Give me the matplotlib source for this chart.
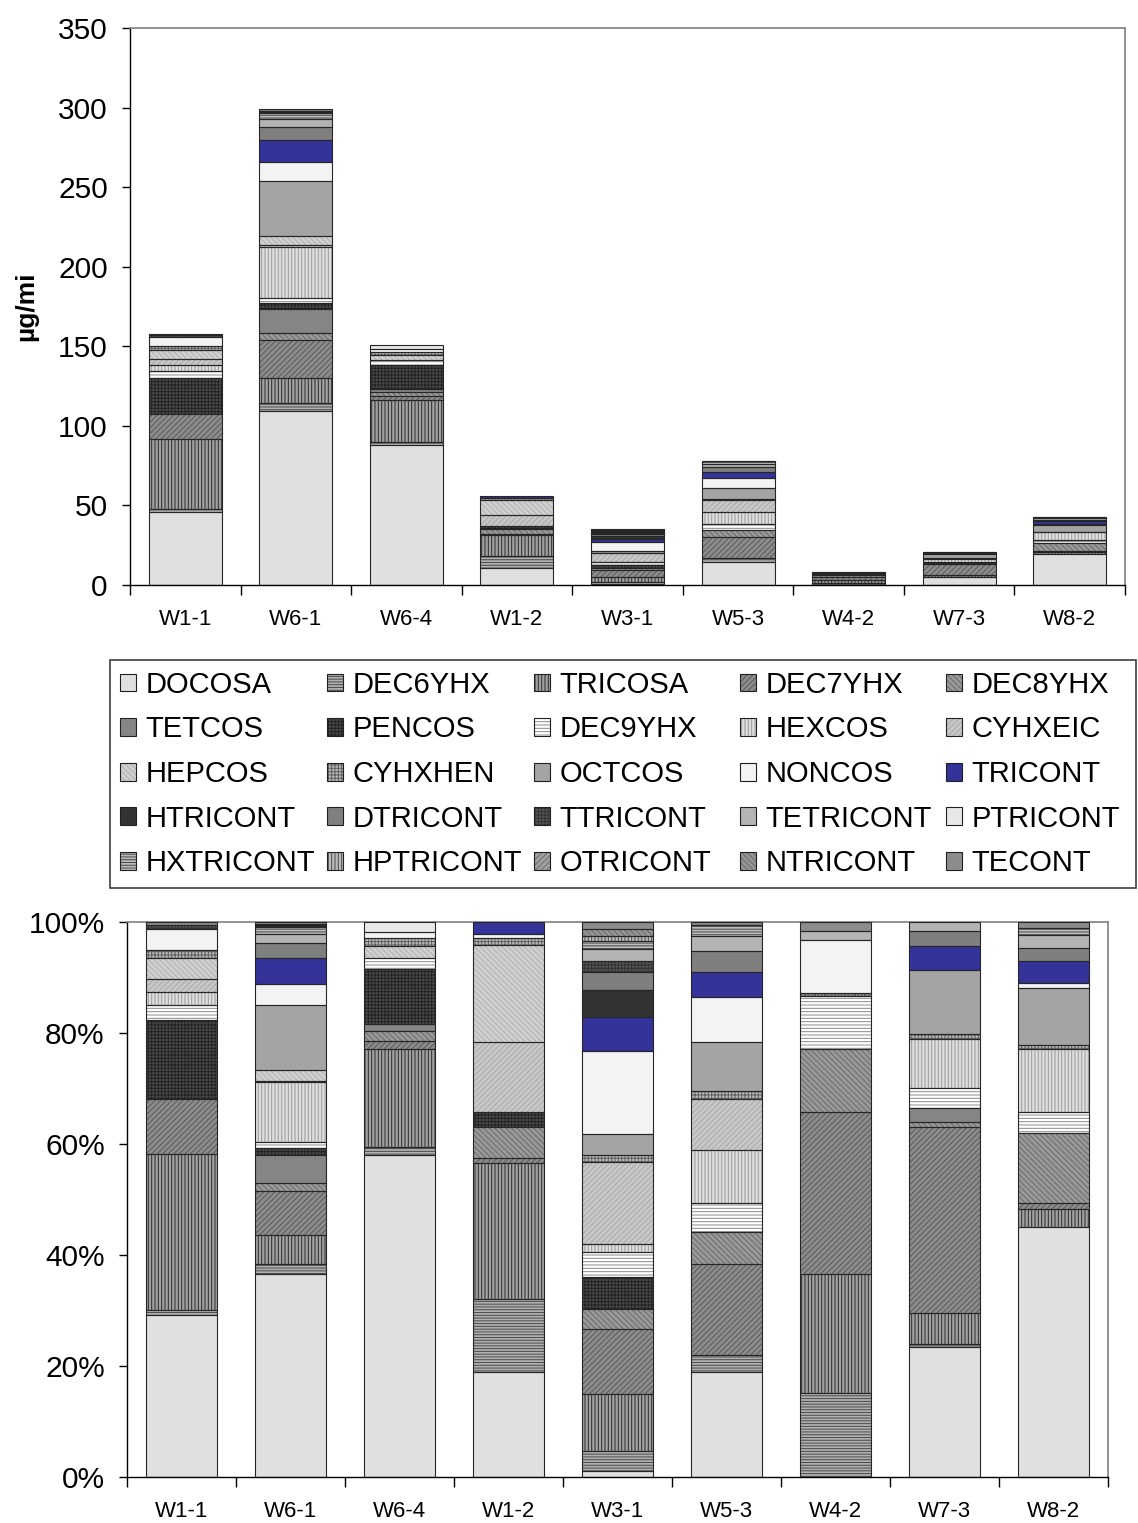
import numpy as np
import matplotlib
matplotlib.use("Agg")
import matplotlib.pyplot as plt
from matplotlib.patches import Patch, Rectangle
from matplotlib.legend_handler import HandlerTuple

plt.rcParams['font.family'] = ['Liberation Sans', 'DejaVu Sans']
plt.rcParams['hatch.linewidth'] = 0.7

samples = ["W1-1", "W6-1", "W6-4", "W1-2", "W3-1", "W5-3", "W4-2", "W7-3", "W8-2"]
totals = [158, 299, 151, 56, 35, 78, 8, 21, 43]  # µg/mi

series = ["DOCOSA", "DEC6YHX", "TRICOSA", "DEC7YHX", "DEC8YHX",
          "TETCOS", "PENCOS", "DEC9YHX", "HEXCOS", "CYHXEIC",
          "HEPCOS", "CYHXHEN", "OCTCOS", "NONCOS", "TRICONT",
          "HTRICONT", "DTRICONT", "TTRICONT", "TETRICONT", "PTRICONT",
          "HXTRICONT", "HPTRICONT", "OTRICONT", "NTRICONT", "TECONT"]

# share of each compound (%) per sample, same order as series
w1_1 = [29.2, 0.9, 28.0, 9.9, 0, 0, 14.2, 2.8, 2.3, 2.4, 3.8, 1.3, 0, 3.9, 0,
        0, 0, 0.7, 0, 0, 0, 0, 0, 0, 0.5]
w6_1 = [36.6, 1.7, 5.3, 7.9, 1.4, 5.2, 1.1, 1.2, 10.7, 0.3, 1.9, 0, 11.7, 3.8, 4.7,
        0, 2.8, 0, 1.6, 0, 1.2, 0.2, 0.2, 0.2, 0.3]
w6_4 = [58.1, 1.4, 17.6, 1.4, 1.9, 1.3, 9.9, 1.9, 0, 0, 2.1, 1.5, 0, 1.1, 0,
        0, 0, 0, 0, 1.8, 0, 0, 0, 0, 0]
w1_2 = [18.9, 13.2, 24.4, 0.9, 5.7, 0, 2.7, 0, 0, 12.6, 17.5, 1.3, 0, 0.6, 2.2,
        0, 0, 0, 0, 0, 0, 0, 0, 0, 0]
w3_1 = [1.0, 3.7, 10.3, 11.6, 3.6, 0, 5.8, 4.6, 1.3, 14.9, 0, 1.3, 3.7, 15.0, 6.0,
        4.9, 3.3, 2.0, 2.2, 0, 1.4, 0.8, 0, 1.3, 1.3]
w5_3 = [18.9, 3.1, 0, 16.3, 5.9, 0, 0, 5.2, 9.5, 9.2, 0, 1.4, 8.9, 8.0, 4.6,
        0, 3.8, 0, 2.6, 0, 2.1, 0, 0, 0, 0.5]
w4_2 = [0, 15.2, 21.4, 29.2, 11.3, 0, 0, 9.5, 0, 0, 0, 0.6, 0, 9.6, 0,
        0, 0, 0, 1.6, 0, 0, 0, 0, 0, 1.6]
w7_3 = [23.5, 0.5, 5.6, 33.5, 0.8, 2.5, 0, 3.7, 8.9, 0, 0, 0.8, 11.6, 0, 4.3,
        0, 2.7, 0, 1.6, 0, 0, 0, 0, 0, 0]
w8_2 = [45.1, 0, 3.1, 1.2, 12.5, 0, 0, 3.9, 11.4, 0, 0, 0.6, 10.3, 0.9, 3.9,
        0, 2.5, 0, 2.2, 0, 1.3, 0, 0, 0, 1.1]

# face colour, hatch, hatch colour per compound
styles = [
    ("#e0e0e0", None, None),
    ("#b0b0b0", "------", "#4a4a4a"),
    ("#a0a0a0", "|||||", "#2e2e2e"),
    ("#8c8c8c", "//////", "#5a5a5a"),
    ("#999999", "\\\\\\\\\\\\", "#6a6a6a"),
    ("#858585", None, None),
    ("#4a4a4a", "+++++", "#222222"),
    ("#ffffff", "-----", "#8a8a8a"),
    ("#dedede", "|||||", "#9a9a9a"),
    ("#c8c8c8", "//////", "#a8a8a8"),
    ("#d0d0d0", "\\\\\\\\\\\\", "#b0b0b0"),
    ("#b8b8b8", "+++++", "#606060"),
    ("#a4a4a4", None, None),
    ("#f3f3f3", None, None),
    ("#333399", None, None),
    ("#333333", None, None),
    ("#7f7f7f", None, None),
    ("#555555", "+++++", "#333333"),
    ("#b4b4b4", None, None),
    ("#e8e8e8", None, None),
    ("#bbbbbb", "------", "#4a4a4a"),
    ("#bbbbbb", "|||||", "#4a4a4a"),
    ("#a0a0a0", "//////", "#707070"),
    ("#959595", "\\\\\\\\\\\\", "#6a6a6a"),
    ("#8c8c8c", None, None),
]

shares = np.array([w1_1, w6_1, w6_4, w1_2, w3_1, w5_3, w4_2, w7_3, w8_2], dtype=float).T
shares = shares / shares.sum(axis=0) * 100
amounts = shares * np.array(totals) / 100

x = np.arange(len(samples))
width = 0.66

fig = plt.figure(figsize=(11.38, 15.23), dpi=100)
ax1 = fig.add_axes([130 / 1138, 1 - 585 / 1523, 995 / 1138, 557 / 1523])
ax2 = fig.add_axes([127 / 1138, 1 - 1477 / 1523, 981 / 1138, 555 / 1523])


def stack(ax, data):
    bottom = np.zeros(len(samples))
    for i, (fc, h, hc) in enumerate(styles):
        v = data[i]
        m = v > 0
        if m.any():
            ax.bar(x[m], v[m], width, bottom=bottom[m], color=fc, hatch=h,
                   edgecolor=hc if hc else fc, linewidth=0, zorder=2)
            ax.bar(x[m], v[m], width, bottom=bottom[m], fill=False,
                   edgecolor="#262626", linewidth=0.8, zorder=3)
        bottom += v


def style_axis(ax):
    ax.set_xlim(-0.5, len(samples) - 0.5)
    ax.set_xticks(x)
    ax.set_xticklabels(samples, fontsize=16)
    ax.set_xticks(np.arange(-0.5, len(samples)), minor=True)
    ax.tick_params(axis="x", which="major", length=0, pad=17)
    ax.tick_params(axis="x", which="minor", length=7, width=1, direction="out")
    ax.tick_params(axis="y", which="major", length=6, width=1, direction="out",
                   labelsize=21.5, pad=10)
    for s in ("top", "right"):
        ax.spines[s].set_color("#808080")
        ax.spines[s].set_linewidth(1.2)
    for s in ("left", "bottom"):
        ax.spines[s].set_color("black")
        ax.spines[s].set_linewidth(1)


stack(ax1, amounts)
style_axis(ax1)
ax1.set_ylim(0, 350)
ax1.set_yticks(range(0, 351, 50))
ax1.set_ylabel("µg/mi", fontsize=19, fontweight="bold", labelpad=14)

stack(ax2, shares)
style_axis(ax2)
ax2.set_ylim(0, 100)
ax2.set_yticks(range(0, 101, 20))
ax2.set_yticklabels([f"{v}%" for v in range(0, 101, 20)])

# legend: five columns of equal width, filled row by row
handles = []
for fc, h, hc in styles:
    handles.append((Patch(facecolor=fc, hatch=h, edgecolor=hc if hc else fc, linewidth=0),
                    Patch(fill=False, edgecolor="#202020", linewidth=0.8)))
col_x = [120, 327, 534, 740, 946]
for c in range(5):
    idx = [r * 5 + c for r in range(5)]
    leg = fig.legend([handles[i] for i in idx], [series[i] for i in idx],
                     handler_map={tuple: HandlerTuple(ndivide=1, pad=0)},
                     loc="center left", bbox_to_anchor=(col_x[c] / 1138, 1 - 774 / 1523),
                     frameon=False, fontsize=21, handlelength=0.56, handleheight=0.56,
                     handletextpad=0.32, labelspacing=0.57, borderpad=0, borderaxespad=0)
fig.add_artist(Rectangle((110 / 1138, 1 - 888 / 1523), 1026 / 1138, 228 / 1523,
                         transform=fig.transFigure, fill=False,
                         edgecolor="#404040", linewidth=1.2))

fig.savefig("out.png", dpi=100)
